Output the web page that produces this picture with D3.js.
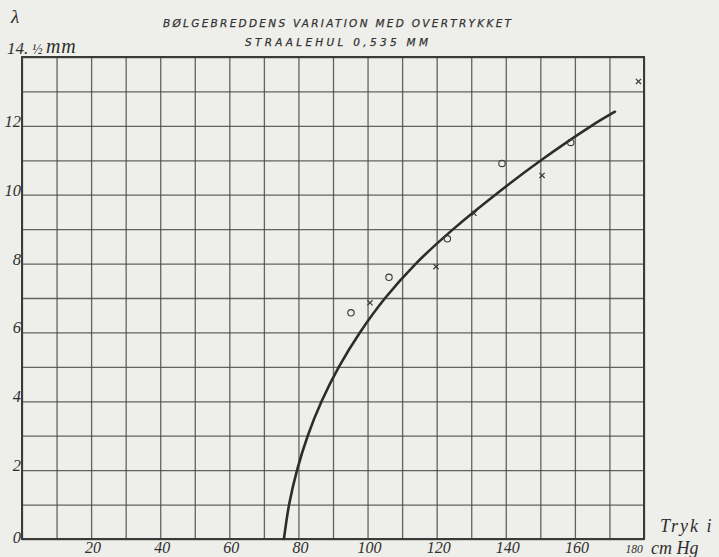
<!DOCTYPE html>
<html>
<head>
<meta charset="utf-8">
<script src="https://cdn.jsdelivr.net/npm/d3@7"></script>
<style>
  html, body { margin: 0; padding: 0; background: #eeeeea; }
  svg { display: block; }
  .num { font-family: "Liberation Serif", "DejaVu Serif", serif; font-style: italic; fill: #2e2e2e; }
  .hand { font-family: "DejaVu Sans", sans-serif; font-style: italic; fill: #333; stroke: #333; stroke-width: 0.25; }
</style>
</head>
<body>
<svg id="chart" width="719" height="557"></svg>
<script>
// Overpressure (cm Hg) vs. wave width (in ½ mm)
const titleLines = ["BØLGEBREDDENS VARIATION MED OVERTRYKKET", "STRAALEHUL 0,535 MM"];
const xTickLabels = [20, 40, 60, 80, 100, 120, 140, 160, 180];
const yTickLabels = [0, 2, 4, 6, 8, 10, 12];
const xGrid = d3.range(0, 181, 10);
const yGrid = d3.range(0, 15, 1);

// measured points: circles and crosses
const circlePressure = [95.2, 106.2, 123.1, 138.9, 158.8];
const circleWidth    = [6.57, 7.60, 8.72, 10.91, 11.52];
const crossPressure  = [100.7, 119.8, 130.8, 150.5, 178.4];
const crossWidth     = [6.86, 7.91, 9.46, 10.56, 13.29];

// fitted curve: pressure where it crosses each whole width value
const curvePressure = [75.8, 77.3, 79.6, 82.7, 86.7, 91.7, 97.8, 105.1, 114.0, 124.8, 137.0, 150.2, 164.8, 171.6];
const curveWidth    = [0, 1, 2, 3, 4, 5, 6, 7, 8, 9, 10, 11, 12, 12.41];

const svg = d3.select("#chart");
const plotL = 22, plotR = 644, plotT = 57, plotB = 539;

const x = d3.scaleLinear().domain([0, 180]).range([plotL, plotR]);
const y = d3.scaleLinear().domain([0, 14]).range([plotB, plotT]);

const ink = "#3a3a3a";

// grid
const gx = svg.append("g").attr("transform", `translate(0,${plotB})`)
  .call(d3.axisBottom(x).tickValues(xGrid).tickSize(-(plotB - plotT)).tickFormat(""));
const gy = svg.append("g").attr("transform", `translate(${plotL},0)`)
  .call(d3.axisLeft(y).tickValues(yGrid).tickSize(-(plotR - plotL)).tickFormat(""));
[gx, gy].forEach(g => {
  g.select(".domain").remove();
  g.selectAll(".tick line").attr("stroke", "#4a4a4a").attr("stroke-width", 1.3).attr("opacity", 0.85);
});

// frame
svg.append("rect")
  .attr("x", plotL).attr("y", plotT)
  .attr("width", plotR - plotL).attr("height", plotB - plotT)
  .attr("fill", "none").attr("stroke", ink).attr("stroke-width", 2);

// x tick labels
svg.append("g").selectAll("text")
  .data(xTickLabels)
  .join("text")
  .attr("class", "num")
  .attr("x", d => d === 180 ? x(d) - 10 : x(d) + 2)
  .attr("y", 553)
  .attr("text-anchor", "middle")
  .attr("font-size", d => d === 180 ? 11.5 : 16)
  .text(d => d);

// y tick labels
svg.append("g").selectAll("text")
  .data(yTickLabels)
  .join("text")
  .attr("class", "num")
  .attr("x", 21)
  .attr("y", d => y(d) + (d === 0 ? 4 : 1))
  .attr("text-anchor", "end")
  .attr("font-size", 16.5)
  .text(d => d);

// axis titles
svg.append("text").attr("class", "num").attr("x", 11).attr("y", 23)
  .attr("font-size", 19).text("λ");
svg.append("text").attr("class", "num").attr("x", 7).attr("y", 54)
  .attr("font-size", 17).text("14.");
svg.append("text").attr("class", "num").attr("x", 32).attr("y", 54)
  .attr("font-size", 14).text("½");
svg.append("text").attr("class", "num").attr("x", 46).attr("y", 53)
  .attr("font-size", 20).attr("letter-spacing", 0.8).text("mm");
svg.append("text").attr("class", "num").attr("x", 660).attr("y", 532)
  .attr("font-size", 18).attr("letter-spacing", 2).text("Tryk i");
svg.append("text").attr("class", "num").attr("x", 651).attr("y", 554)
  .attr("font-size", 18).text("cm Hg");

// title
svg.append("text").attr("class", "hand")
  .attr("x", 163).attr("y", 27).attr("font-size", 10.5)
  .attr("textLength", 348).attr("lengthAdjust", "spacing")
  .text(titleLines[0]);
svg.append("text").attr("class", "hand")
  .attr("x", 245).attr("y", 46).attr("font-size", 10.5)
  .attr("textLength", 183).attr("lengthAdjust", "spacing")
  .text(titleLines[1]);

// curve
const line = d3.line().x(d => x(d[0])).y(d => y(d[1])).curve(d3.curveCatmullRom.alpha(0.5));
svg.append("path")
  .datum(d3.zip(curvePressure, curveWidth))
  .attr("d", line)
  .attr("fill", "none").attr("stroke", "#2c2c2c").attr("stroke-width", 2.6)
  .attr("stroke-linecap", "round");

// circle markers
svg.append("g").selectAll("circle")
  .data(d3.zip(circlePressure, circleWidth))
  .join("circle")
  .attr("cx", d => x(d[0])).attr("cy", d => y(d[1])).attr("r", 3.2)
  .attr("fill", "none").attr("stroke", ink).attr("stroke-width", 1.1);

// cross markers
const cs = 2.6;
svg.append("g").selectAll("path")
  .data(d3.zip(crossPressure, crossWidth))
  .join("path")
  .attr("d", d => {
    const cx = x(d[0]), cy = y(d[1]);
    return `M${cx - cs},${cy - cs}L${cx + cs},${cy + cs}M${cx - cs},${cy + cs}L${cx + cs},${cy - cs}`;
  })
  .attr("fill", "none").attr("stroke", ink).attr("stroke-width", 1.2);
</script>
</body>
</html>
